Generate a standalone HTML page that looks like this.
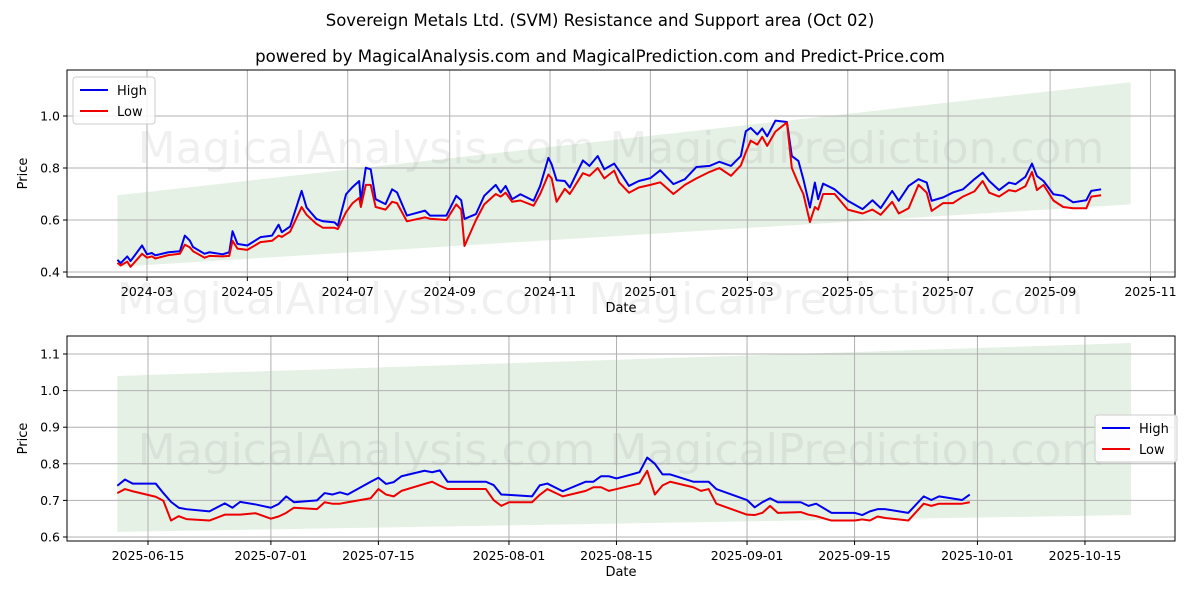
<!DOCTYPE html>
<html><head><meta charset="utf-8"><style>
body{margin:0;background:#fff;font-family:"Liberation Sans","DejaVu Sans",sans-serif}
svg text{font-family:"DejaVu Sans","Liberation Sans",sans-serif}
</style></head><body>
<svg id="chart" width="1200" height="600" xmlns="http://www.w3.org/2000/svg">
<rect width="1200" height="600" fill="#fff"/>
<text x="600" y="26" font-size="16.5" text-anchor="middle">Sovereign Metals Ltd. (SVM) Resistance and Support area (Oct 02)</text>
<text x="600" y="62" font-size="16.6" text-anchor="middle">powered by MagicalAnalysis.com and MagicalPrediction.com and Predict-Price.com</text>
<text x="600" y="314" font-size="44" text-anchor="middle" fill="#000" fill-opacity="0.06">MagicalAnalysis.com    MagicalPrediction.com</text>
</svg>
<script>
// ---- top chart data (days since 2024-03-01) ----
const topDays=[-18,-16,-12,-10,-3,0,3,5,13,20,23,26,28,35,38,46,50,52,55,61,69,76,80,82,87,94,97,103,107,114,116,121,125,129,130,133,136,139,145,149,152,158,169,172,182,188,191,193,200,205,212,215,218,222,227,235,239,244,246,249,254,257,265,269,274,278,284,287,293,299,306,312,320,327,334,342,348,355,361,364,367,371,374,377,382,389,392,396,399,403,406,408,411,418,426,435,441,446,453,457,463,469,474,477,484,490,496,503,508,512,518,524,528,534,538,541,545,551,557,563,571,574,580];
const topHigh=[.447,.434,.460,.442,.502,.468,.473,.464,.476,.480,.540,.521,.496,.470,.476,.468,.476,.557,.508,.502,.534,.540,.582,.553,.575,.712,.648,.604,.595,.591,.578,.699,.727,.750,.674,.801,.795,.680,.661,.718,.706,.617,.636,.617,.617,.693,.676,.604,.623,.693,.735,.706,.731,.680,.699,.674,.731,.839,.814,.753,.750,.725,.829,.808,.846,.795,.817,.789,.731,.750,.761,.791,.738,.757,.804,.808,.824,.808,.846,.941,.954,.929,.952,.922,.982,.977,.846,.827,.757,.648,.744,.680,.740,.718,.674,.642,.676,.646,.712,.674,.731,.757,.744,.674,.687,.706,.718,.757,.782,.750,.715,.744,.738,.766,.817,.769,.750,.699,.693,.668,.676,.712,.718];
const topLow=[.435,.425,.440,.420,.470,.455,.460,.452,.465,.470,.505,.495,.480,.455,.462,.460,.462,.520,.490,.485,.515,.520,.540,.535,.555,.650,.620,.585,.570,.570,.565,.630,.665,.685,.650,.735,.735,.650,.640,.670,.665,.595,.610,.605,.600,.660,.640,.500,.600,.660,.700,.690,.705,.670,.675,.655,.700,.775,.760,.670,.720,.700,.780,.770,.800,.760,.790,.745,.705,.725,.735,.745,.700,.735,.760,.785,.800,.770,.810,.860,.905,.890,.920,.885,.940,.975,.800,.740,.700,.592,.650,.640,.700,.700,.640,.625,.640,.620,.670,.625,.645,.735,.705,.635,.665,.665,.690,.710,.750,.705,.690,.715,.710,.730,.785,.715,.735,.675,.650,.645,.645,.690,.695];
const topTickLabels=["2024-03","2024-05","2024-07","2024-09","2024-11","2025-01","2025-03","2025-05","2025-07","2025-09","2025-11"];
const topTickDays=[0,61,122,184,245,306,365,426,487,549,610];
const topYTicks=[0.4,0.6,0.8,1.0];
const topBand=[-18,0.695,0.42,598,1.13,0.66]; // startDay, top, bottom, endDay, top, bottom
// ---- bottom chart data (days since 2025-06-15) ----
const botDays=[-4,-3,-2,1,2,3,4,5,8,10,11,12,14,16,17,18,19,22,23,24,25,26,29,30,31,32,33,36,37,38,39,44,45,46,47,50,51,52,54,57,58,59,60,61,64,65,66,67,68,71,72,73,74,78,79,80,81,82,85,86,87,89,92,93,94,95,96,99,101,102,103,106,107];
const botHigh=[.740,.757,.746,.746,.720,.696,.680,.676,.670,.692,.680,.696,.689,.680,.690,.711,.695,.700,.720,.716,.722,.716,.751,.762,.745,.750,.766,.781,.777,.782,.751,.751,.742,.716,.715,.711,.741,.746,.725,.751,.751,.766,.766,.760,.777,.817,.800,.771,.771,.751,.751,.751,.731,.701,.681,.695,.706,.695,.695,.685,.691,.666,.666,.660,.670,.676,.676,.666,.711,.701,.711,.701,.716];
const botLow=[.720,.731,.725,.710,.699,.645,.657,.649,.645,.661,.661,.661,.665,.650,.656,.666,.680,.676,.695,.691,.691,.695,.706,.731,.716,.711,.726,.745,.751,.740,.731,.731,.701,.685,.695,.695,.715,.731,.711,.726,.736,.736,.726,.731,.746,.781,.716,.741,.751,.736,.726,.731,.691,.661,.660,.666,.685,.666,.668,.661,.657,.645,.645,.648,.645,.656,.652,.645,.691,.685,.691,.691,.695];
const botTickLabels=["2025-06-15","2025-07-01","2025-07-15","2025-08-01","2025-08-15","2025-09-01","2025-09-15","2025-10-01","2025-10-15"];
const botTickDays=[0,16,30,47,61,78,92,108,122];
const botYTicks=[0.6,0.7,0.8,0.9,1.0,1.1];
const botBand=[-4,1.04,0.614,128,1.13,0.66];

const NS="http://www.w3.org/2000/svg";
const svg=document.getElementById('chart');
function mk(tag,attrs,parent){const e=document.createElementNS(NS,tag);for(const k in attrs)e.setAttribute(k,attrs[k]);(parent||svg).appendChild(e);return e;}

function drawPanel(p){
  const g=mk('g',{});
  
  
  const X=d=>p.x0+(d-p.d0)*p.dx, Y=v=>p.y0-(v-p.v0)*p.vy;
  const b=p.band;
  const band=mk('polygon',{points:`${X(b[0])},${Y(b[1])} ${X(b[3])},${Y(b[4])} ${X(b[3])},${Y(b[5])} ${X(b[0])},${Y(b[2])}`,fill:'#2e8b2e','fill-opacity':0.12},g);
  
  
  const wm=mk('text',{x:(p.L+p.R)/2,y:p.wmY,'font-size':44,'text-anchor':'middle',fill:'#000','fill-opacity':0.06},g);
  wm.textContent='MagicalAnalysis.com    MagicalPrediction.com';
  
  
  p.xt.forEach((d,i)=>{const x=X(d);
    mk('line',{x1:x,x2:x,y1:p.T,y2:p.B,stroke:'#b0b0b0','stroke-width':1},g);
    mk('line',{x1:x,x2:x,y1:p.B,y2:p.B+4,stroke:'#000'},g);
    const t=mk('text',{x:x,y:p.B+19,'font-size':12.5,'text-anchor':'middle'},g);t.textContent=p.xl[i];
    
    
  });
  p.yt.forEach(v=>{const y=Y(v);
    mk('line',{x1:p.L,x2:p.R,y1:y,y2:y,stroke:'#b0b0b0','stroke-width':1},g);
    mk('line',{x1:p.L-4,x2:p.L,y1:y,y2:y,stroke:'#000'},g);
    const t=mk('text',{x:p.L-7,y:y+4.5,'font-size':12.5,'text-anchor':'end'},g);t.textContent=v.toFixed(1);
    
    
  });
  const pts=a=>p.days.map((d,i)=>X(d)+','+Y(a[i])).join(' ');
  const hl=mk('polyline',{points:pts(p.high),fill:'none',stroke:'#0000ee','stroke-width':2,'stroke-linejoin':'round'},g);
  
  
  const ll=mk('polyline',{points:pts(p.low),fill:'none',stroke:'#ee0000','stroke-width':2,'stroke-linejoin':'round'},g);
  
  
  mk('rect',{x:p.L,y:p.T,width:p.R-p.L,height:p.B-p.T,fill:'none',stroke:'#000','stroke-width':1},g);
  const xl=mk('text',{x:(p.L+p.R)/2,y:p.B+35,'font-size':13,'text-anchor':'middle'},g);xl.textContent='Date';
  
  
  const yl=mk('text',{x:0,y:0,'font-size':13,'text-anchor':'middle',transform:`translate(27,${(p.T+p.B)/2}) rotate(-90)`},g);yl.textContent='Price';
  
  
  const lg=mk('g',{},g);
  
  
  mk('rect',{x:p.lgX,y:p.lgY,width:82,height:47,rx:3,fill:'#fff','fill-opacity':0.85,stroke:'#ccc'},lg);
  [['High','#0000ee'],['Low','#ee0000']].forEach((s,i)=>{const yy=p.lgY+13+i*21;
    mk('line',{x1:p.lgX+7,x2:p.lgX+35,y1:yy,y2:yy,stroke:s[1],'stroke-width':2},lg);
    const t=mk('text',{x:p.lgX+44,y:yy+5,'font-size':13},lg);t.textContent=s[0];
    
    
  });
}
drawPanel({name:'top-panel',L:67,R:1175,T:70,B:277,x0:147,d0:0,dx:1.645,y0:272,v0:0.4,vy:260,
  band:topBand,days:topDays,high:topHigh,low:topLow,xt:topTickDays,xl:topTickLabels,yt:topYTicks,wmY:163,lgX:73,lgY:77});
drawPanel({name:'bottom-panel',L:67,R:1175,T:336,B:541,x0:148,d0:0,dx:7.68,y0:537,v0:0.6,vy:366,
  band:botBand,days:botDays,high:botHigh,low:botLow,xt:botTickDays,xl:botTickLabels,yt:botYTicks,wmY:465,lgX:1095,lgY:415});
</script>
</body></html>
